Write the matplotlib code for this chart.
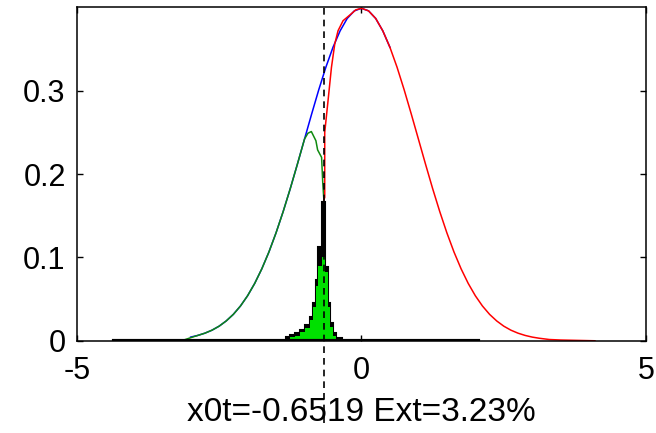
import matplotlib
matplotlib.use("Agg")
import matplotlib.pyplot as plt

plt.rcParams['font.family'] = ['Liberation Sans', 'DejaVu Sans']

# full normal pdf (blue)
blue_x = [-3.0, -2.875, -2.75, -2.625, -2.5, -2.375, -2.25, -2.125, -2.0, -1.875, -1.75,
          -1.625, -1.5, -1.375, -1.25, -1.125, -1.0, -0.875, -0.75, -0.625, -0.5, -0.375,
          -0.25, -0.125, 0.0, 0.125, 0.25, 0.375, 0.5]
blue_y = [0.0044, 0.0064, 0.0091, 0.0127, 0.0175, 0.0238, 0.0317, 0.0417, 0.054, 0.0688,
          0.0863, 0.1065, 0.1295, 0.155, 0.1826, 0.2119, 0.242, 0.272, 0.3011, 0.3282,
          0.3521, 0.3718, 0.3867, 0.3958, 0.3989, 0.3958, 0.3867, 0.3718, 0.3521]

# left part (green)
green_x = [-3.16, -2.95, -2.875, -2.75, -2.625, -2.5, -2.375, -2.25, -2.125, -2.0, -1.875,
           -1.75, -1.625, -1.5, -1.375, -1.25, -1.125, -1.0, -0.94, -0.88, -0.80, -0.77,
           -0.70, -0.68, -0.66]
green_y = [0.0, 0.0048, 0.0064, 0.0091, 0.0127, 0.0175, 0.0238, 0.0317, 0.0417, 0.054,
           0.0688, 0.0863, 0.1065, 0.1295, 0.155, 0.1826, 0.2119, 0.242, 0.249, 0.251,
           0.240, 0.229, 0.220, 0.190, 0.169]

# right part (red)
red_x = [-0.66, -0.645, -0.645, -0.587, -0.527, -0.469, -0.411, -0.323, -0.2, -0.1, 0.0,
         0.125, 0.25, 0.375, 0.5, 0.625, 0.75, 0.875, 1.0, 1.125, 1.25, 1.375, 1.5, 1.625,
         1.75, 1.875, 2.0, 2.125, 2.25, 2.375, 2.5, 2.625, 2.75, 2.875, 3.0, 3.125, 3.3,
         3.5, 4.1]
red_y = [0.169, 0.172, 0.25, 0.288, 0.328, 0.356, 0.372, 0.384, 0.391, 0.397, 0.3989,
         0.3958, 0.3867, 0.3718, 0.3521, 0.3282, 0.3011, 0.272, 0.242, 0.2119, 0.1826,
         0.155, 0.1295, 0.1065, 0.0863, 0.0688, 0.054, 0.0417, 0.0317, 0.0238, 0.0175,
         0.0127, 0.0091, 0.0064, 0.0044, 0.003, 0.0015, 0.0009, 0.0]

# histogram of x0t
hist_edges = [-1.32, -1.26, -1.17, -1.08, -1.00, -0.91, -0.85, -0.80, -0.76, -0.70, -0.645,
              -0.59, -0.545, -0.50, -0.44, -0.35]
hist_black = [0.004, 0.0068, 0.009, 0.013, 0.019, 0.029, 0.045, 0.073, 0.113, 0.167, 0.089,
              0.045, 0.021, 0.009, 0.003]
hist_green = [0.002, 0.004, 0.006, 0.010, 0.015, 0.025, 0.040, 0.066, 0.090, 0.100, 0.082,
              0.040, 0.017, 0.006, 0.001]

base_x = [-4.34, 2.05]
x0t = -0.6519
ext = 3.23

fig = plt.figure(figsize=(6.56, 4.33), dpi=100)
ax = fig.add_axes([0.117, 0.213, 0.868, 0.770])

ax.plot(blue_x, blue_y, color='#0000ff', lw=1.1)
ax.plot(green_x, green_y, color='#108a10', lw=1.1)
ax.plot(red_x, red_y, color='#ff0000', lw=1.1)
ax.plot(base_x, [0, 0], color='k', lw=3)
ax.stairs(hist_black, hist_edges, fill=True, color='k')
ax.stairs(hist_black, hist_edges, color='k', lw=1.5)
ax.stairs(hist_green, hist_edges, fill=True, color='#00e000')
ax.plot([x0t, x0t], [-0.099, 0.4], color='k', ls=(0, (4, 3)), lw=1.2, clip_on=False)

ax.set_xlim(-5, 5)
ax.set_ylim(0, 0.4)
ax.set_xticks([-5, 0, 5])
ax.set_xticklabels(['-5', '0', '5'])
ax.set_yticks([0, 0.1, 0.2, 0.3])
ax.set_yticklabels(['0', '0.1', '0.2', '0.3'])
ax.tick_params(direction='in', top=True, right=True, length=4, width=1,
               labelsize=22)
ax.tick_params(axis='x', pad=11)
ax.tick_params(axis='y', pad=8)
for s in ax.spines.values():
    s.set_linewidth(1.1)

ax.set_xlabel('x0t=%.4f Ext=%.2f%%' % (x0t, ext), fontsize=24, labelpad=8)

fig.savefig('out.png', dpi=100, facecolor='white')
